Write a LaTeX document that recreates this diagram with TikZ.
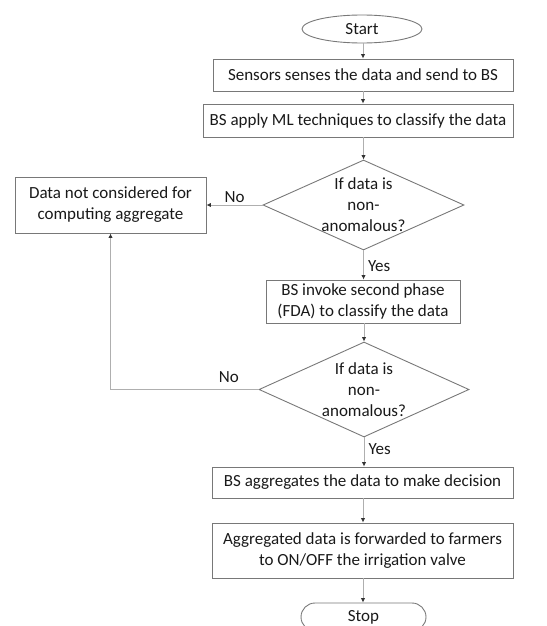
\documentclass[tikz,border=0pt]{standalone}
\usepackage{fontspec}
\setmainfont{Carlito}
\usetikzlibrary{shapes.geometric,arrows.meta}
\definecolor{linegray}{RGB}{120,120,120}
\definecolor{conngray}{RGB}{175,175,175}
\definecolor{tipgray}{RGB}{50,50,50}
\definecolor{txt}{RGB}{25,25,25}
\tikzset{
  every node/.style={font=\fontsize{17}{21}\selectfont, text=txt},
  procbox/.style={draw=linegray, line width=0.9pt, rectangle, inner sep=0pt, align=center},
  decbox/.style={draw=linegray, line width=0.9pt, diamond, inner sep=-10pt, aspect=2.2, align=center},
  termbox/.style={draw=linegray, line width=0.9pt, ellipse, inner sep=0pt},
  stopbox/.style={draw=linegray, line width=0.9pt, rectangle, rounded corners=14pt, inner sep=0pt},
  conn/.style={draw=conngray, line width=1pt, -{Latex[length=4.5pt,width=4.5pt,color=tipgray]}},
  lbl/.style={inner sep=0pt}
}
\begin{document}
\begin{tikzpicture}[x=1pt,y=-1pt]
\useasboundingbox (0,0) rectangle (546,626);
\node[termbox, minimum width=120pt, minimum height=28pt] (start) at (362,29) {Start};
\node[procbox, minimum width=300pt, minimum height=32pt] (b1) at (363,75) {Sensors senses the data and send to BS};
\node[procbox, minimum width=310pt, minimum height=33pt] (b2) at (358,120.5) {BS apply ML techniques to classify the data};
\node[decbox, minimum width=201pt, minimum height=90pt] (d1) at (363.5,205) {If data is\\non-\\anomalous?};
\node[procbox, minimum width=191pt, minimum height=56pt] (nc) at (110.5,205) {Data not considered for\\computing aggregate};
\node[procbox, minimum width=194pt, minimum height=43pt] (b3) at (363,301.5) {BS invoke second phase\\(FDA) to classify the data};
\node[decbox, minimum width=210pt, minimum height=95pt] (d2) at (364,389.5) {If data is\\non-\\anomalous?};
\node[procbox, minimum width=301pt, minimum height=31pt] (b5) at (362.5,482.5) {BS aggregates the data to make decision};
\node[procbox, minimum width=301pt, minimum height=55pt] (b6) at (362.5,550.5) {Aggregated data is forwarded to farmers\\to ON/OFF the irrigation valve};
\node[stopbox, minimum width=125pt, minimum height=28pt] (stop) at (363.5,617) {Stop};

\draw[conn] (start.south -| b1.north) -- (b1.north -| 363,0);
\draw[conn] (b1) -- (b2.north -| b1);
\draw[conn] (b2.south -| d1.north) -- (d1.north);
\draw[conn] (d1.west) -- node[lbl, above=2pt] {No} (nc.east);
\draw[conn] (d1.south) -- node[lbl, right=4pt, pos=0.55] {Yes} (b3.north -| d1.south);
\draw[conn] (b3.south -| d2.north) -- (d2.north);
\draw[conn] (d2.west) -- node[lbl, above=6pt, pos=0.2] {No} (d2.west -| nc.south) -- (nc.south);
\draw[conn] (d2.south) -- node[lbl, right=4pt, pos=0.4] {Yes} (b5.north -| d2.south);
\draw[conn] (b5.south -| 363,0) -- (b6.north -| 363,0);
\draw[conn] (b6.south -| 363,0) -- (stop.north -| 363,0);
\end{tikzpicture}
\end{document}
